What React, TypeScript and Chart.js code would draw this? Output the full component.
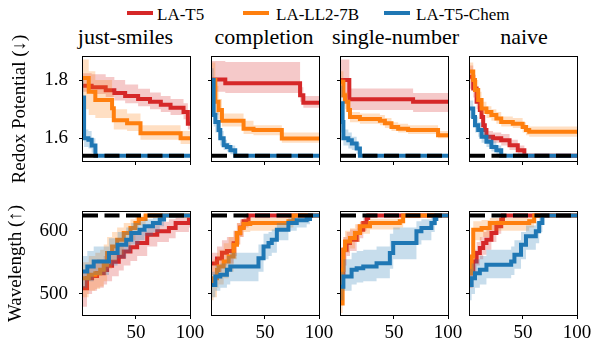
import React, { useEffect, useRef } from 'react';
import { Chart, registerables } from 'chart.js';

Chart.register(...registerables);

const FONT = "'Liberation Serif', 'Times New Roman', serif";

// ---------- labels ----------
const methods = ['just-smiles', 'completion', 'single-number', 'naive'];
const seriesNames = ['LA-T5', 'LA-LL2-7B', 'LA-T5-Chem'];
const seriesColors = ['#d62728', '#ff7f0e', '#1f77b4'];
const bandColors = ['rgba(214,39,40,0.25)', 'rgba(255,127,14,0.25)', 'rgba(31,119,180,0.25)'];
const rowLabels = ['Redox Potential (\u2193)', 'Wavelength (\u2191)'];

// ---------- ticks / targets ----------
const xTicks = [50, 100];
const redoxTicks = [1.6, 1.8];
const wavelengthTicks = [500, 600];
const redoxTarget = 1.54;
const wavelengthTarget = 624;

// ---------- data: [iteration, mean, lower, upper] ----------
// Redox potential
const redT5Smiles = [[1,1.78,1.76,1.823],[9,1.775,1.752,1.82],[22,1.765,1.742,1.81],[30,1.755,1.73,1.80],[40,1.745,1.72,1.785],[52,1.735,1.71,1.77],[63,1.725,1.70,1.757],[73,1.715,1.69,1.745],[82,1.705,1.68,1.735],[94,1.69,1.665,1.72],[98,1.65,1.63,1.675],[100,1.65,1.63,1.675]];
const redLL2Smiles = [[1,1.807,1.70,1.87],[6.3,1.76,1.68,1.83],[12.4,1.731,1.67,1.80],[27.9,1.703,1.66,1.75],[29.5,1.662,1.63,1.70],[41.8,1.652,1.625,1.685],[54.2,1.617,1.595,1.645],[91.3,1.60,1.58,1.625],[100,1.60,1.58,1.625]];
const redChemSmiles = [[1,1.74,1.62,1.80],[2,1.60,1.57,1.63],[6,1.595,1.565,1.625],[9,1.575,1.55,1.60],[12.5,1.54,1.54,1.54],[100,1.54,1.54,1.54]];

const redT5Completion = [[1,1.802,1.76,1.865],[13.3,1.789,1.755,1.862],[82.5,1.748,1.725,1.775],[85.5,1.722,1.705,1.745],[100,1.722,1.705,1.745]];
const redLL2Completion = [[1,1.80,1.72,1.86],[4.1,1.725,1.68,1.78],[7.1,1.697,1.665,1.735],[10.2,1.66,1.64,1.685],[30.2,1.633,1.615,1.66],[39.4,1.628,1.61,1.645],[65.6,1.599,1.585,1.62],[100,1.599,1.585,1.62]];
const redChemCompletion = [[1,1.80,1.72,1.84],[2.5,1.68,1.64,1.72],[4.1,1.656,1.62,1.69],[7.1,1.628,1.60,1.66],[8.7,1.60,1.575,1.625],[11.8,1.576,1.56,1.595],[14.8,1.57,1.555,1.585],[18,1.559,1.545,1.575],[22.5,1.54,1.54,1.54],[100,1.54,1.54,1.54]];

const redT5Single = [[1,1.80,1.74,1.87],[8.7,1.734,1.697,1.771],[67.7,1.725,1.69,1.755],[100,1.725,1.69,1.755]];
const redLL2Single = [[1,1.794,1.74,1.83],[3.2,1.748,1.71,1.79],[4.7,1.725,1.70,1.76],[7.8,1.697,1.675,1.72],[9.3,1.673,1.655,1.69],[18.5,1.666,1.65,1.685],[37,1.66,1.645,1.68],[41.6,1.652,1.635,1.67],[47.7,1.639,1.625,1.655],[53.9,1.633,1.62,1.65],[63.1,1.628,1.615,1.645],[90.8,1.61,1.60,1.625],[100,1.61,1.60,1.625]];
const redChemSingle = [[1,1.72,1.62,1.78],[2.5,1.656,1.60,1.70],[3.2,1.60,1.575,1.63],[7.8,1.593,1.565,1.62],[11,1.582,1.56,1.605],[15.5,1.565,1.545,1.585],[18.5,1.54,1.54,1.54],[100,1.54,1.54,1.54]];

const redT5Naive = [[1,1.811,1.77,1.85],[4,1.771,1.74,1.80],[7.1,1.725,1.70,1.76],[10.1,1.697,1.675,1.725],[11.7,1.673,1.65,1.70],[13.2,1.645,1.625,1.67],[14.7,1.628,1.61,1.65],[16.2,1.605,1.59,1.625],[22.3,1.60,1.585,1.62],[29.9,1.593,1.575,1.615],[37.6,1.576,1.56,1.595],[45.2,1.559,1.545,1.575],[51.3,1.54,1.54,1.54],[100,1.54,1.54,1.54]];
const redLL2Naive = [[1,1.829,1.80,1.86],[4,1.80,1.77,1.835],[5.6,1.766,1.74,1.80],[8.6,1.731,1.71,1.76],[11.7,1.702,1.685,1.725],[16.2,1.69,1.67,1.71],[20.8,1.68,1.66,1.70],[25.4,1.668,1.65,1.69],[29.9,1.656,1.64,1.675],[40.6,1.65,1.635,1.67],[49.7,1.639,1.62,1.655],[52.8,1.628,1.61,1.645],[55.8,1.622,1.605,1.64],[100,1.622,1.605,1.64]];
const redChemNaive = [[1,1.702,1.67,1.73],[4,1.673,1.645,1.70],[5.6,1.645,1.62,1.675],[8.6,1.628,1.605,1.655],[11.7,1.605,1.585,1.63],[16.2,1.588,1.57,1.61],[20.8,1.57,1.555,1.59],[25.4,1.559,1.545,1.575],[29.9,1.54,1.54,1.54],[100,1.54,1.54,1.54]];

// Wavelength
const wavT5Smiles = [[1,509,480,535],[4.7,525,500,545],[9.4,528.6,505,550],[14,532.8,510,555],[20.2,538,515,560],[23.3,544.4,520,565],[27.9,551,528,572],[34.1,559,537,580],[38.7,567,545,588],[44.9,574,552,595],[51.1,580.4,560,600],[60.4,593.7,575,610],[69.7,599,582,614],[80.5,604.2,588,618],[86.7,612.2,598,622],[99,617.5,605,624],[100,617.5,605,624]];
const wavLL2Smiles = [[1,524.9,495,550],[6.3,530.2,505,560],[12.4,532.8,508,565],[16.9,538.1,512,570],[20.2,546,520,578],[23.3,564.6,540,590],[27.9,575.1,552,598],[32.6,585.7,562,605],[38.7,596.3,575,612],[44.9,604.2,585,618],[49.5,612.2,597,622],[52.6,618.5,608,624],[58.9,624,624,624],[100,624,624,624]];
const wavChemSmiles = [[1,535.4,510,560],[5,543.4,520,568],[10.9,551.3,530,575],[25,564.6,545,588],[33,577.8,556,598],[41,585.7,565,605],[45.6,596.3,578,612],[53.3,601.6,585,615],[58,607,592,618],[65.7,612.2,598,621],[72,617.5,607,624],[76,624,624,624],[100,624,624,624]];

const wavT5Completion = [[1,548,530,565],[5.6,556,535,575],[10.2,565,545,585],[14.8,568,548,590],[21,580,560,600],[24,596,578,612],[27.1,605,590,618],[30.2,615,605,622],[34.8,624,624,624],[100,624,624,624]];
const wavLL2Completion = [[1,520,490,545],[2.5,525,495,555],[5.6,538,510,565],[7.1,543.4,515,570],[11.8,551.3,525,580],[16.4,559.2,535,590],[21,577.8,555,600],[24.1,596.3,578,612],[27.1,604.2,590,616],[30.2,610.6,598,619],[36.4,612.2,600,620],[71.7,614.8,605,622],[76.3,624,624,624],[100,624,624,624]];
const wavChemCompletion = [[1,514.3,495,535],[4.1,527.5,505,545],[8.7,530.2,510,548],[14.8,538.1,515,560],[17.9,543.4,520,565],[44,556.6,535,578],[48.7,575.1,555,595],[53.3,580.4,560,598],[56.3,585.7,565,602],[61,601.6,585,612],[71.7,612.2,600,620],[79.4,616.4,605,622],[88.6,618.5,610,623],[91.7,624,624,624],[100,624,624,624]];

const wavT5Single = [[1,532.8,505,555],[3.2,569.8,545,590],[6.2,580.4,560,598],[9.3,585.7,568,602],[15.5,596.3,582,610],[18.5,601.6,588,614],[21.6,612.2,600,620],[24.7,620.1,612,624],[26.2,624,624,624],[100,624,624,624]];
const wavLL2Single = [[1,485,470,510],[2.5,538,515,560],[3.2,570,550,590],[4.7,583,565,600],[9.3,588.4,572,604],[13.9,596.3,582,610],[18.5,606.9,595,615],[27.8,612.2,602,619],[55.4,614.8,605,622],[58.5,624,624,624],[100,624,624,624]];
const wavChemSingle = [[1,511.6,490,535],[3.2,527.5,505,555],[10.8,538.1,515,565],[15.5,540.7,518,568],[21.6,543.4,520,570],[33.9,548.7,525,575],[46.2,564.6,540,595],[49.3,580.4,555,605],[70.8,599,578,615],[75.4,604.2,585,618],[84.6,612.2,598,622],[87.7,618.5,608,624],[89.2,624,624,624],[100,624,624,624]];

const wavT5Naive = [[1,532.8,510,555],[4,551.3,530,570],[7.1,564.6,545,582],[10.1,572.5,555,590],[13.2,580.4,562,598],[16.2,585.7,570,602],[20.8,596.3,582,610],[25.4,606.9,595,616],[29.9,617.5,610,622],[31.5,624,624,624],[100,624,624,624]];
const wavLL2Naive = [[1,532.8,510,555],[2.5,559.2,535,585],[4,601.6,585,615],[11.7,604.2,590,617],[19.3,612.2,600,620],[55.8,614.8,605,622],[60.4,624,624,624],[100,624,624,624]];
const wavChemNaive = [[1,514.3,490,540],[2.5,524.9,500,548],[5.6,532.8,510,555],[10.1,538.1,515,560],[16.2,546,525,570],[39.1,551.3,530,575],[42.1,561.9,540,585],[48.2,577.8,555,598],[52.8,591,570,608],[61.9,599,580,614],[65,612.2,598,620],[68,624,624,624],[100,624,624,624]];

const redoxSeries = [
  [redT5Smiles, redLL2Smiles, redChemSmiles],
  [redT5Completion, redLL2Completion, redChemCompletion],
  [redT5Single, redLL2Single, redChemSingle],
  [redT5Naive, redLL2Naive, redChemNaive],
];
const wavelengthSeries = [
  [wavT5Smiles, wavLL2Smiles, wavChemSmiles],
  [wavT5Completion, wavLL2Completion, wavChemCompletion],
  [wavT5Single, wavLL2Single, wavChemSingle],
  [wavT5Naive, wavLL2Naive, wavChemNaive],
];

// ---------- layout ----------
const COL_LEFT = [83, 212, 341, 470];
const PANEL_W = 107;
const ROW_TOP = [57, 212];
const ROW_H = [104, 103];
const ROW_YMIN = [1.522, 466.8];
const ROW_YMAX = [1.879, 629.5];
const TITLE_CENTERS = [125.5, 264, 395.5, 524];
const YTITLE_PAD = [9, 5];

const framePlugin = {
  id: 'frame',
  afterDatasetsDraw(chart: any) {
    const { ctx, chartArea } = chart;
    const { left, top, right, bottom } = chartArea;
    ctx.save();
    ctx.strokeStyle = '#000';
    ctx.lineWidth = 1;
    ctx.strokeRect(Math.round(left) - 0.5, Math.round(top) - 0.5, Math.round(right - left) + 1, Math.round(bottom - top) + 1);
    ctx.restore();
  },
};

function zeroPad(s: any) {
  s.paddingTop = 0;
  s.paddingBottom = 0;
  s.paddingLeft = 0;
  s.paddingRight = 0;
}

function Panel({ r, c }: { r: number; c: number }) {
  const ref = useRef<HTMLCanvasElement>(null);
  const L = c === 0 ? COL_LEFT[0] : 10;
  const R = r === 1 ? 14 : 8;
  let T = 4;
  let B = r === 1 ? 26 : 8;
  if (c === 0 && r === 0) { T = 57; B = 29; }
  if (c === 0 && r === 1) { T = 26; }
  const width = L + PANEL_W + R;
  const height = T + ROW_H[r] + B;
  const left = COL_LEFT[c] - L;
  const top = ROW_TOP[r] - T;

  useEffect(() => {
    const series = (r === 0 ? redoxSeries : wavelengthSeries)[c];
    const target = r === 0 ? redoxTarget : wavelengthTarget;
    const yTicks = r === 0 ? redoxTicks : wavelengthTicks;
    const datasets: any[] = [];
    series.forEach((rows: number[][], s: number) => {
      const base = (2 - s) * 2 + 1;
      datasets.push({
        label: seriesNames[s] + ' upper',
        data: rows.map((p) => ({ x: p[0], y: p[3] })),
        borderColor: 'transparent',
        borderWidth: 0,
        backgroundColor: bandColors[s],
        fill: '+1',
        stepped: true,
        pointRadius: 0,
        order: base + 1,
      });
      datasets.push({
        label: seriesNames[s] + ' lower',
        data: rows.map((p) => ({ x: p[0], y: p[2] })),
        borderColor: 'transparent',
        borderWidth: 0,
        fill: false,
        stepped: true,
        pointRadius: 0,
        order: base + 1,
      });
      datasets.push({
        label: seriesNames[s],
        data: rows.map((p) => ({ x: p[0], y: p[1] })),
        borderColor: seriesColors[s],
        borderWidth: 4,
        fill: false,
        stepped: true,
        pointRadius: 0,
        order: base,
      });
    });
    datasets.push({
      label: 'target',
      data: [{ x: 1, y: target }, { x: 100, y: target }],
      borderColor: '#000',
      borderWidth: 4,
      borderDash: [15, 6.5],
      fill: false,
      pointRadius: 0,
      order: 0,
    });

    const chart = new Chart(ref.current as HTMLCanvasElement, {
      type: 'line',
      data: { datasets },
      plugins: [framePlugin],
      options: {
        responsive: false,
        animation: false,
        events: [],
        layout: { padding: { left: 0, right: R, top: T, bottom: 0 } },
        plugins: { legend: { display: false }, tooltip: { enabled: false }, title: { display: false } },
        scales: {
          x: {
            type: 'linear',
            min: 1,
            max: 100,
            bounds: 'data',
            afterFit: (s: any) => { s.height = B; zeroPad(s); },
            afterBuildTicks: (s: any) => { s.ticks = xTicks.map((v) => ({ value: v })); },
            grid: { drawOnChartArea: false, drawTicks: true, tickLength: 4, color: '#000', lineWidth: 1 },
            border: { display: false },
            ticks: {
              display: r === 1,
              autoSkip: false,
              maxRotation: 0,
              padding: 3,
              color: '#000',
              font: { family: FONT, size: 19 },
              callback: (v: any) => String(v),
            },
          },
          y: {
            type: 'linear',
            min: ROW_YMIN[r],
            max: ROW_YMAX[r],
            bounds: 'data',
            afterFit: (s: any) => { s.width = L; zeroPad(s); },
            afterBuildTicks: (s: any) => { s.ticks = yTicks.map((v) => ({ value: v })); },
            grid: { drawOnChartArea: false, drawTicks: true, tickLength: 4, color: '#000', lineWidth: 1 },
            border: { display: false },
            ticks: {
              display: c === 0,
              autoSkip: false,
              padding: 11,
              color: '#000',
              font: { family: FONT, size: 19 },
              callback: (v: any) => (r === 0 ? Number(v).toFixed(1) : String(v)),
            },
            title: {
              display: c === 0,
              text: rowLabels[r],
              color: '#000',
              font: { family: FONT, size: 19 },
              padding: { top: YTITLE_PAD[r], bottom: 0 },
            },
          },
        },
      } as any,
    });
    return () => chart.destroy();
  }, [r, c]);

  return (
    <canvas
      ref={ref}
      width={width}
      height={height}
      style={{ position: 'absolute', left, top, width, height }}
    />
  );
}

const LEGEND_LINE_X = [127, 243, 384];
const LEGEND_TEXT_X = [157, 276, 416];

export default function App() {
  const panels: any[] = [];
  for (let r = 0; r < 2; r++) for (let c = 0; c < 4; c++) panels.push(<Panel key={r + '-' + c} r={r} c={c} />);
  return (
    <div style={{ position: 'absolute', left: 0, top: 0, width: 592, height: 341, background: '#fff', fontFamily: FONT, color: '#000', overflow: 'hidden' }}>
      {seriesNames.map((n, i) => (
        <React.Fragment key={n}>
          <div style={{ position: 'absolute', left: LEGEND_LINE_X[i], top: 11, width: 26, height: 4, background: seriesColors[i] }} />
          <div style={{ position: 'absolute', left: LEGEND_TEXT_X[i], top: 6, fontSize: 17, lineHeight: '17px', whiteSpace: 'nowrap' }}>{n}</div>
        </React.Fragment>
      ))}
      {methods.map((m, i) => (
        <div key={m} style={{ position: 'absolute', left: TITLE_CENTERS[i] - 80, width: 160, top: 26, textAlign: 'center', fontSize: 22, lineHeight: '22px', whiteSpace: 'nowrap' }}>{m}</div>
      ))}
      {panels}
    </div>
  );
}
